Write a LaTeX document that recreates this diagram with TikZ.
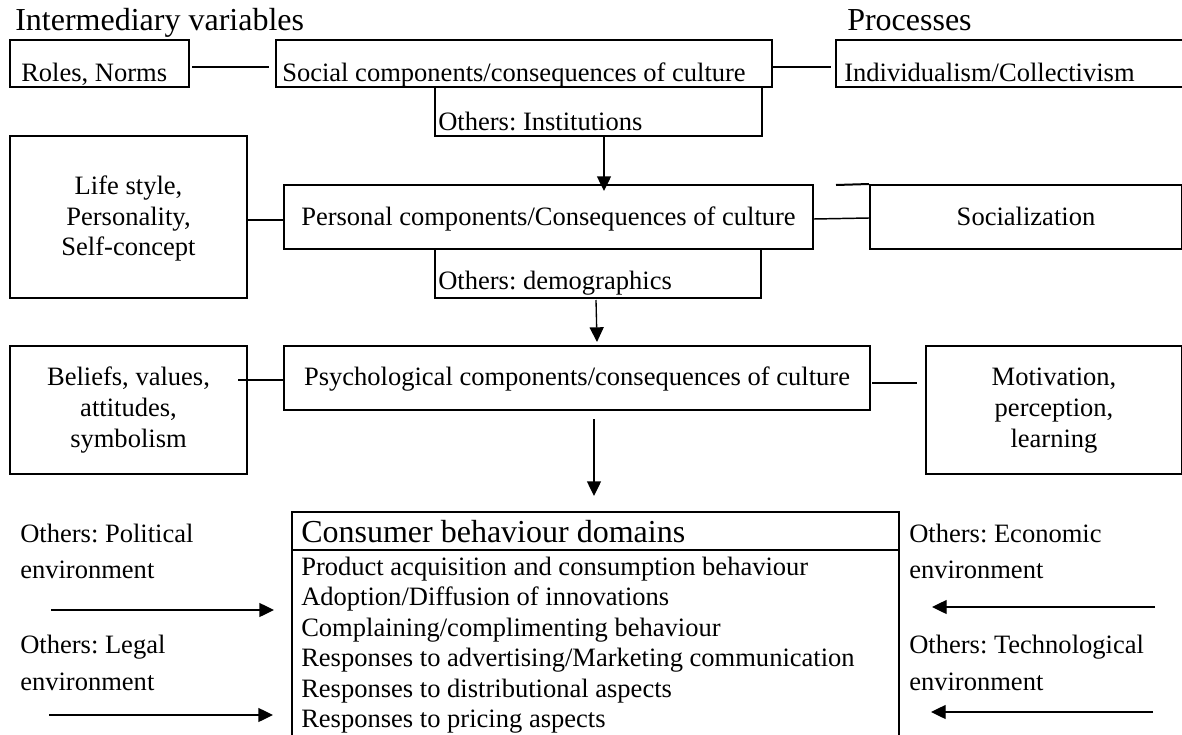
\documentclass[tikz,border=0pt]{standalone}
\usepackage{fontspec}
\setmainfont{Liberation Serif}
\usetikzlibrary{arrows.meta,calc,fit}
\newcommand{\bodyfont}{\fontsize{19.9pt}{23pt}\selectfont}
\newcommand{\headfont}{\fontsize{24pt}{28pt}\selectfont}
\frenchspacing
\begin{document}
\begin{tikzpicture}[x=0.75pt,y=-0.75pt,
  box/.style={draw, line width=1.5pt, inner sep=0pt},
  lbl/.style={anchor=base west, inner sep=0pt, font=\bodyfont},
  clbl/.style={anchor=base, inner sep=0pt, font=\bodyfont},
  head/.style={anchor=base west, inner sep=0pt, font=\headfont},
  link/.style={line width=1.1pt},
  arr/.style={line width=1pt, -{Triangle[length=11pt,width=10.5pt]}},
]
\useasboundingbox (0,0) rectangle (1182,735);
\clip (0,0) rectangle (1182,735);

% column headings
\node[head] (hvar) at (15,31) {Intermediary variables};
\node[head] (hproc) at (847,31) {Processes};

% social level
\node[box, fit={(10,40) (189,87)}] (roles) {};
\node[lbl] (rolesT) at (21,82) {Roles, Norms};
\node[box, fit={(276,40) (772,87)}] (social) {};
\node[lbl] (socialT) at (282,82) {Social components/consequences of culture};
\node[box, fit={(836,40) (1186,87)}] (indiv) {};
\node[lbl] (indivT) at (844,82) {Individualism/Collectivism};
\node[box, fit={(435,87) (762,136)}] (inst) {};
\node[lbl] (instT) at (438,130) {Others: Institutions};

\draw[link] ($(roles.east)+(2,3.5)$) -- ($(social.west)+(-6,3.5)$);
\draw[link] ($(social.east)+(0,3.5)$) -- ($(indiv.west)+(-4,3.5)$);

% personal level
\node[box, fit={(10,136) (247,298)}] (life) {};
\node[clbl] (life1) at (128.5,194) {Life style,};
\node[clbl] (life2) at (128.5,225) {Personality,};
\node[clbl] (life3) at (128.5,255) {Self-concept};
\node[box, fit={(284,185) (813,249)}] (personal) {};
\node[clbl] (personalT) at (548.5,225) {Personal components/Consequences of culture};
\node[box, fit={(870,185) (1182,249)}] (sociali) {};
\node[clbl] (socialiT) at (1026,225) {Socialization};
\coordinate (topext) at (836,185);
\draw[line width=1.5pt] (topext) -- (sociali.north west);
\node[box, fit={(435,249) (761,298)}] (demo) {};
\node[lbl] (demoT) at (438,289) {Others: demographics};

\coordinate (a1) at (604,136);
\draw[arr] (a1) -- ($(personal.north -| a1)+(0,7)$);
\draw[link] ($(life.east)+(0,3)$) -- ($(personal.west)+(0,3)$);
\draw[link] ($(personal.east)+(0,2)$) -- ($(sociali.west)+(0,1)$);

% psychological level
\node[box, fit={(10,346) (247,474)}] (beliefs) {};
\node[clbl] (bel1) at (128.5,385) {Beliefs, values,};
\node[clbl] (bel2) at (128.5,416) {attitudes,};
\node[clbl] (bel3) at (128.5,447) {symbolism};
\node[box, fit={(284,346) (870,410)}] (psych) {};
\node[clbl] (psychT) at (577,385) {Psychological components/consequences of culture};
\node[box, fit={(926,346) (1182,474)}] (motiv) {};
\node[clbl] (mot1) at (1054,385) {Motivation,};
\node[clbl] (mot2) at (1054,416) {perception,};
\node[clbl] (mot3) at (1054,447) {learning};

\coordinate (a2) at (596,300);
\draw[arr] (a2) -- ($(psych.north -| a2)+(1,-3)$);
\draw[link] ($(beliefs.east)+(-10,-30)$) -- ($(psych.west)+(0,2)$);
\draw[link] ($(psych.east)+(1,5)$) -- ($(motiv.west)+(-8,-27)$);

% consumer behaviour domains
\node[box, fit={(292,512) (899,745)}] (consumer) {};
\coordinate (sep) at (0,550);
\draw[line width=1.5pt] (consumer.west |- sep) -- (consumer.east |- sep);
\node[head] (consT) at (301,542) {Consumer behaviour domains};
\node[lbl] (d1) at (301,575) {Product acquisition and consumption behaviour};
\node[lbl] (d2) at (301,605.5) {Adoption/Diffusion of innovations};
\node[lbl] (d3) at (301,636) {Complaining/complimenting behaviour};
\node[lbl] (d4) at (301,666.5) {Responses to advertising/Marketing communication};
\node[lbl] (d5) at (301,697) {Responses to distributional aspects};
\node[lbl] (d6) at (301,727.5) {Responses to pricing aspects};

\coordinate (a3) at (594,419);
\draw[arr] (a3) -- ($(consumer.north -| a3)+(0,-15)$);

% environmental influences
\node[lbl] (pol1) at (20,542) {Others: Political};
\node[lbl] (pol2) at (20,578) {environment};
\node[lbl] (leg1) at (20,653) {Others: Legal};
\node[lbl] (leg2) at (20,690) {environment};
\node[lbl] (eco1) at (909,542) {Others: Economic};
\node[lbl] (eco2) at (909,578) {environment};
\node[lbl] (tec1) at (909,653) {Others: Technological};
\node[lbl] (tec2) at (909,690) {environment};

\coordinate (pol) at (51,610);
\coordinate (leg) at (49,715);
\coordinate (eco) at (1155,607);
\coordinate (tec) at (1153,712);
\draw[arr] (pol) -- ($(consumer.west |- pol)+(-17,0)$);
\draw[arr] (leg) -- ($(consumer.west |- leg)+(-18,0)$);
\draw[arr] (eco) -- ($(consumer.east |- eco)+(32,0)$);
\draw[arr] (tec) -- ($(consumer.east |- tec)+(31,0)$);
\end{tikzpicture}
\end{document}
